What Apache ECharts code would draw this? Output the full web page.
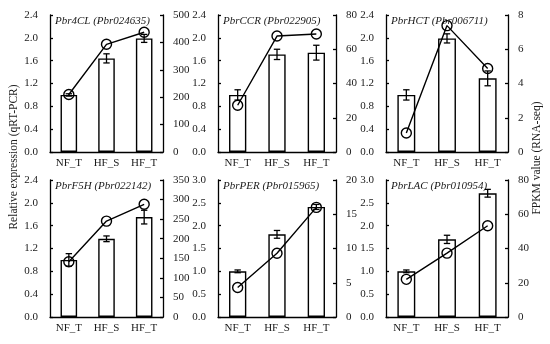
<!DOCTYPE html>
<html>
<head>
<meta charset="utf-8">
<script src="https://cdn.jsdelivr.net/npm/echarts@6/dist/echarts.min.js"></script>
<style>html,body{margin:0;padding:0;background:#fff;}#c{width:550px;height:344px;}</style>
</head>
<body>
<div id="c"></div>
<script>
const categories = ['NF_T', 'HF_S', 'HF_T'];
const titles = ['Pbr4CL (Pbr024635)', 'PbrCCR (Pbr022905)', 'PbrHCT (Pbr006711)',
                'PbrF5H (Pbr022142)', 'PbrPER (Pbr015965)', 'PbrLAC (Pbr010954)'];
// qRT-PCR relative expression (bars, left axis)
const qpcr4CL = [1.00, 1.64, 1.99];
const qpcrCCR = [1.00, 1.71, 1.74];
const qpcrHCT = [1.00, 1.99, 1.29];
const qpcrF5H = [1.00, 1.37, 1.75];
const qpcrPER = [1.00, 1.81, 2.41];
const qpcrLAC = [1.00, 1.70, 2.71];
// error (± SD)
const err4CL = [0.02, 0.08, 0.07];
const errCCR = [0.09, 0.09, 0.13];
const errHCT = [0.09, 0.08, 0.13];
const errF5H = [0.11, 0.05, 0.12];
const errPER = [0.03, 0.085, 0.055];
const errLAC = [0.03, 0.09, 0.085];
// FPKM values (line, right axis)
const fpkm4CL = [210, 393, 437];
const fpkmCCR = [27.3, 67.7, 68.9];
const fpkmHCT = [1.11, 7.38, 4.88];
const fpkmF5H = [141, 245, 288];
const fpkmPER = [4.3, 9.3, 16.0];
const fpkmLAC = [22, 37.3, 53.3];
// axis ranges
const leftMax = [2.4, 2.4, 2.4, 2.4, 3.0, 3.0];
const leftStep = [0.4, 0.4, 0.4, 0.4, 0.5, 0.5];
const rightMax = [500, 80, 8, 350, 20, 80];
const rightStep = [100, 20, 2, 50, 5, 20];

const qpcrAll = [qpcr4CL, qpcrCCR, qpcrHCT, qpcrF5H, qpcrPER, qpcrLAC];
const errAll = [err4CL, errCCR, errHCT, errF5H, errPER, errLAC];
const fpkmAll = [fpkm4CL, fpkmCCR, fpkmHCT, fpkmF5H, fpkmPER, fpkmLAC];

const FONT = 'Liberation Serif';
const colLeft = [50, 218, 386];
const colWidth = [113, 118, 122];
const rowTop = [15, 180];
const H = 137;

const grids = [], xAxes = [], yAxes = [], series = [], graphics = [];
for (let i = 0; i < 6; i++) {
  const c = i % 3, r = Math.floor(i / 3);
  grids.push({left: colLeft[c], top: rowTop[r], width: colWidth[c], height: H, containLabel: false});
  xAxes.push({
    type: 'category', gridIndex: i, data: categories, boundaryGap: true,
    axisLine: {lineStyle: {color: '#000', width: 1.3}},
    axisTick: {inside: true, length: 3, lineStyle: {color: '#000', width: 1.3}},
    axisLabel: {fontFamily: FONT, fontSize: 11, color: '#1a1a1a', margin: 6}
  });
  const yCommon = {
    type: 'value', gridIndex: i, min: 0,
    axisLine: {show: true, lineStyle: {color: '#000', width: 1.3}},
    axisTick: {show: true, inside: true, length: 3, lineStyle: {color: '#000', width: 1.3}},
    splitLine: {show: false},
    axisLabel: {fontFamily: FONT, fontSize: 11, color: '#1a1a1a', margin: 10}
  };
  yAxes.push(Object.assign({}, yCommon, {
    position: 'left', max: leftMax[i], interval: leftStep[i],
    axisLabel: Object.assign({}, yCommon.axisLabel, {margin: 12, formatter: v => v.toFixed(1)})
  }));
  yAxes.push(Object.assign({}, yCommon, {position: 'right', max: rightMax[i], interval: rightStep[i]}));
  const yl = 2 * i, yr = 2 * i + 1;
  series.push({
    type: 'bar', xAxisIndex: i, yAxisIndex: yl, data: qpcrAll[i], barWidth: '44%',
    itemStyle: {color: '#fff', borderColor: '#000', borderWidth: 1.4}, silent: true, z: 2
  });
  const eb = qpcrAll[i].map((v, k) => [k, v - errAll[i][k], v + errAll[i][k]]);
  series.push({
    type: 'custom', xAxisIndex: i, yAxisIndex: yl, data: eb, z: 3,
    renderItem: function (params, api) {
      const x = api.value(0);
      const lo = api.coord([x, api.value(1)]);
      const hi = api.coord([x, api.value(2)]);
      const w = 3.2;
      const st = {stroke: '#000', lineWidth: 1.3, fill: 'none'};
      return {type: 'group', children: [
        {type: 'line', shape: {x1: lo[0], y1: lo[1], x2: hi[0], y2: hi[1]}, style: st},
        {type: 'line', shape: {x1: lo[0] - w, y1: lo[1], x2: lo[0] + w, y2: lo[1]}, style: st},
        {type: 'line', shape: {x1: hi[0] - w, y1: hi[1], x2: hi[0] + w, y2: hi[1]}, style: st}
      ]};
    }
  });
  series.push({
    type: 'line', xAxisIndex: i, yAxisIndex: yr, data: fpkmAll[i], z: 4,
    symbol: 'circle', symbolSize: 10,
    lineStyle: {color: '#000', width: 1.4},
    itemStyle: {color: 'rgba(0,0,0,0)', borderColor: '#000', borderWidth: 1.4}
  });
  graphics.push({
    type: 'text', x: colLeft[c] + 5, y: rowTop[r] + 0.5,
    style: {text: titles[i], fontFamily: FONT, fontSize: 11, fontStyle: 'italic', fill: '#1a1a1a',
            textVerticalAlign: 'top'}
  });
}
graphics.push({
  type: 'text', x: 14, y: 157, rotation: Math.PI / 2,
  style: {text: 'Relative expression (qRT-PCR)', fontFamily: FONT, fontSize: 11.5, fill: '#1a1a1a',
          textAlign: 'center', textVerticalAlign: 'middle'}
});
graphics.push({
  type: 'text', x: 537, y: 158, rotation: Math.PI / 2,
  style: {text: 'FPKM value (RNA-seq)', fontFamily: FONT, fontSize: 11.5, fill: '#1a1a1a',
          textAlign: 'center', textVerticalAlign: 'middle'}
});

const chart = echarts.init(document.getElementById('c'), null, {renderer: 'canvas'});
chart.setOption({
  animation: false,
  backgroundColor: '#fff',
  grid: grids, xAxis: xAxes, yAxis: yAxes, series: series,
  graphic: graphics
});
</script>
</body>
</html>
